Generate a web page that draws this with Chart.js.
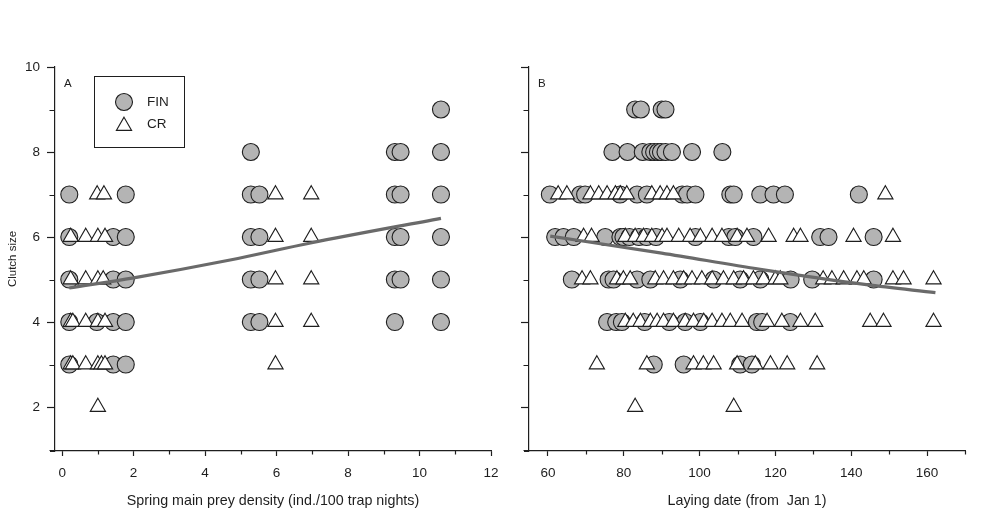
<!DOCTYPE html>
<html>
<head>
<meta charset="utf-8">
<script src="https://cdn.jsdelivr.net/npm/chart.js@4.4.1/dist/chart.umd.min.js"></script>
<style>
  html, body { margin: 0; padding: 0; background: #fff; }
  #wrap { position: relative; width: 1000px; height: 513px; overflow: hidden; }
  .panel { position: absolute; top: 0; height: 513px; }
</style>
</head>
<body>
<div id="wrap">
  <div class="panel" style="left:0;width:512px"><canvas id="chartA"></canvas></div>
  <div class="panel" style="left:500px;width:500px"><canvas id="chartB"></canvas></div>
</div>
<script>
// clutch size rows, top to bottom; each data list below has one entry per row
const clutchSizes = [9, 8, 7, 6, 5, 4, 3, 2];

// panel A: spring main prey density
const finA = [
  [10.6],
  [5.28, 9.31, 9.47, 10.6],
  [0.2, 1.78, 5.28, 5.52, 9.31, 9.47, 10.6],
  [0.2, 1.43, 1.78, 5.28, 5.52, 9.31, 9.47, 10.6],
  [0.2, 1.43, 1.78, 5.28, 5.52, 9.31, 9.47, 10.6],
  [0.2, 0.97, 1.43, 1.78, 5.28, 5.52, 9.31, 10.6],
  [0.2, 1.43, 1.78],
  []
];
const crA = [
  [],
  [],
  [0.98, 1.17, 5.97, 6.97],
  [0.24, 0.66, 1.0, 1.2, 5.97, 6.97],
  [0.24, 0.66, 1.0, 1.15, 5.97, 6.97],
  [0.24, 0.3, 0.66, 1.0, 1.2, 5.97, 6.97],
  [0.24, 0.3, 0.66, 1.0, 1.1, 1.2, 5.97],
  [1.0]
];
const fitA_x = [0.2, 2, 4.7, 6.95, 10.6];
const fitA_y = [4.8, 5.04, 5.46, 5.86, 6.44];

// panel B: laying date
const finB = [
  [83, 84.5, 90, 91],
  [77, 81, 85, 87, 88, 89, 89.8, 91, 92.7, 98, 106],
  [60.5, 68.5, 69.8, 79, 83.5, 86.1, 95.4, 96.7, 98.9, 108.1, 109, 116, 119.5, 122.5, 142],
  [61.9, 64.1, 66.8, 75.1, 79.1, 79.9, 81.5, 84, 86, 88.5, 98.9, 107.7, 109.4, 114.2, 131.8, 134, 145.9],
  [66.3, 76, 77.3, 83.5, 87, 94.9, 103.7, 110.7, 116, 124, 129.7, 145.9],
  [75.6, 78, 79.5, 85.5, 92, 96.2, 100.2, 115.1, 116.5, 123.9],
  [87.9, 95.8, 110.7, 113.8],
  []
];
const crB = [
  [],
  [],
  [62.7, 65, 71.2, 73.4, 75.6, 77.8, 79.1, 80.8, 87.4, 89.6, 91.4, 93.1, 149],
  [69.4, 71.5, 80.4, 83, 85.2, 87.4, 90.1, 91.4, 94.5, 97.5, 100.2, 103.3, 105.9, 109.9, 112.5, 118.2, 124.8, 126.6, 140.6, 151],
  [69, 71.2, 78.2, 79.9, 81.7, 88.3, 90.5, 93.1, 95.8, 98, 100.6, 103.3, 106.3, 109, 111.6, 114.2, 116.9, 120, 121.3, 132.6, 134.9, 138, 141.5, 143.3, 151, 153.8, 161.7],
  [80.4, 82.5, 84.4, 87, 88.8, 90.5, 93.1, 96.2, 98.4, 101.1, 103.3, 105.9, 108.1, 111.2, 117.8, 121.7, 126.6, 130.5, 145, 148.5, 161.7],
  [72.9, 86.1, 98.4, 101, 103.7, 109.9, 114.7, 118.7, 123.1, 131],
  [83, 109]
];
const fitB_x = [60.6, 90, 116, 144, 162.2];
const fitB_y = [6.02, 5.62, 5.24, 4.88, 4.69];

// axis ticks (labelled values get the long tick, the rest a short one)
const yTicks = [1, 2, 3, 4, 5, 6, 7, 8, 9, 10];
const yLabels = [2, 4, 6, 8, 10];
const xTicksA = [0, 1, 2, 3, 4, 5, 6, 7, 8, 9, 10, 11, 12];
const xLabelsA = [0, 2, 4, 6, 8, 10, 12];
const xTicksB = [60, 70, 80, 90, 100, 110, 120, 130, 140, 150, 160, 170];
const xLabelsB = [60, 80, 100, 120, 140, 160];

const INK = '#1e1e1e';
const FILL = '#b4b4b4';
const FONT = '"Liberation Sans", Arial, sans-serif';

Chart.defaults.font.family = FONT;
Chart.defaults.color = INK;

function rowsToPoints(rows) {
  let pts = [];
  rows.forEach((xs, i) => xs.forEach(x => pts.push({x: x, y: clutchSizes[i]})));
  return pts;
}
function zipPoints(xs, ys) {
  return xs.map((x, i) => ({x: x, y: ys[i]}));
}

function triPath(ctx, cx, cy, r) {
  // same geometry as Chart.js 'triangle' point style
  ctx.beginPath();
  ctx.moveTo(cx, cy - r);
  ctx.lineTo(cx + r * Math.sin(Math.PI / 3), cy + r / 2);
  ctx.lineTo(cx - r * Math.sin(Math.PI / 3), cy + r / 2);
  ctx.closePath();
}

const panelExtras = {
  id: 'panelExtras',
  afterDraw(chart, args, opts) {
    const ctx = chart.ctx, a = chart.chartArea;
    const xs = chart.scales.x, ys = chart.scales.y;
    ctx.save();
    ctx.strokeStyle = INK;
    ctx.lineWidth = 1.2;
    ctx.beginPath();
    // x axis line runs a little past the y axis, as in the original
    ctx.moveTo(a.left - 5, a.bottom + 0.5);
    ctx.lineTo(a.left, a.bottom + 0.5);
    // short minor ticks
    opts.xTicks.filter(v => !opts.xLabels.includes(v)).forEach(v => {
      const px = Math.round(xs.getPixelForValue(v)) + 0.5;
      ctx.moveTo(px, a.bottom);
      ctx.lineTo(px, a.bottom + 3.5);
    });
    yTicks.filter(v => !yLabels.includes(v)).forEach(v => {
      const py = Math.round(ys.getPixelForValue(v)) + 0.5;
      ctx.moveTo(a.left, py);
      ctx.lineTo(a.left - 5.5, py);
    });
    ctx.stroke();

    ctx.fillStyle = INK;
    ctx.font = '11.5px ' + FONT;
    ctx.textBaseline = 'middle';
    ctx.textAlign = 'left';
    ctx.fillText(opts.tag, a.left + 9, a.top + 17);
    if (opts.legend) {
      ctx.lineWidth = 1;
      ctx.strokeRect(94.5, 76.5, 90, 71);
      ctx.lineWidth = 1.1;
      ctx.beginPath();
      ctx.arc(124, 102, 8.5, 0, Math.PI * 2);
      ctx.fillStyle = FILL;
      ctx.fill();
      ctx.stroke();
      triPath(ctx, 124, 126, 8.8);
      ctx.fillStyle = '#fff';
      ctx.fill();
      ctx.stroke();
      ctx.fillStyle = INK;
      ctx.font = '13.5px ' + FONT;
      ctx.fillText('FIN', 147, 102);
      ctx.fillText('CR', 147, 124);
    }
    ctx.restore();
  }
};

function makeChart(id, cfg) {
  const scatterSets = [
    {label: 'fit', data: zipPoints(cfg.fitX, cfg.fitY), showLine: true, pointRadius: 0,
     borderColor: '#6a6a6a', borderWidth: 3.2, cubicInterpolationMode: 'monotone', order: 0, clip: false},
    {label: 'CR', data: rowsToPoints(cfg.cr), pointStyle: 'triangle', pointRadius: 8.8,
     backgroundColor: '#fff', borderColor: INK, borderWidth: 1.1, order: 1, clip: false},
    {label: 'FIN', data: rowsToPoints(cfg.fin), pointStyle: 'circle', pointRadius: 8.5,
     backgroundColor: FILL, borderColor: INK, borderWidth: 1.1, order: 2, clip: false}
  ];
  return new Chart(document.getElementById(id), {
    type: 'scatter',
    data: { datasets: scatterSets },
    options: {
      responsive: true,
      maintainAspectRatio: false,
      animation: false,
      events: [],
      layout: { padding: {left: 0, right: cfg.padRight, top: 67, bottom: 0} },
      plugins: {
        legend: {display: false},
        tooltip: {enabled: false},
        panelExtras: {tag: cfg.tag, legend: cfg.legend, xTicks: cfg.xTicks, xLabels: cfg.xLabels}
      },
      scales: {
        x: {
          type: 'linear', min: cfg.xMin, max: cfg.xMax,
          afterBuildTicks: s => { s.ticks = cfg.xTicks.map(v => ({value: v})); },
          afterFit: s => { s.height = 62; },
          border: {display: true, color: INK, width: 1.2},
          grid: {
            drawOnChartArea: false, drawTicks: true, tickLength: 5, tickWidth: 1.2,
            tickColor: c => (c.tick && cfg.xLabels.includes(c.tick.value)) ? INK : 'rgba(0,0,0,0)'
          },
          ticks: {
            autoSkip: false, maxRotation: 0, padding: 9, color: INK,
            font: {size: 13.5},
            callback: v => cfg.xLabels.includes(v) ? String(v) : ''
          },
          title: {display: true, text: cfg.xTitle, font: {size: 14.3}, color: INK, padding: {top: 4, bottom: 3.5}}
        },
        y: {
          type: 'linear', min: 0.965, max: 10,
          afterBuildTicks: s => { s.ticks = yTicks.map(v => ({value: v})); },
          afterFit: s => { s.width = cfg.yWidth; },
          border: {display: true, color: INK, width: 1.2},
          grid: {
            drawOnChartArea: false, drawTicks: true, tickLength: 8, tickWidth: 1.2,
            tickColor: c => (c.tick && yLabels.includes(c.tick.value)) ? INK : 'rgba(0,0,0,0)'
          },
          ticks: {
            autoSkip: false, padding: 7, color: INK,
            font: {size: 13.5},
            callback: v => (cfg.yLabelsOn && yLabels.includes(v)) ? String(v) : ''
          },
          title: {display: cfg.yLabelsOn, text: 'Clutch size', font: {size: 11.5}, color: INK, padding: {top: 6, bottom: 0}}
        }
      }
    },
    plugins: [panelExtras]
  });
}

makeChart('chartA', {
  fin: finA, cr: crA, fitX: fitA_x, fitY: fitA_y,
  xMin: -0.2, xMax: 12, xTicks: xTicksA, xLabels: xLabelsA,
  xTitle: 'Spring main prey density (ind./100 trap nights)',
  yWidth: 55, yLabelsOn: true, padRight: 21, tag: 'A', legend: true
});
makeChart('chartB', {
  fin: finB, cr: crB, fitX: fitB_x, fitY: fitB_y,
  xMin: 55, xMax: 170, xTicks: xTicksB, xLabels: xLabelsB,
  xTitle: 'Laying date (from  Jan 1)',
  yWidth: 29, yLabelsOn: false, padRight: 35, tag: 'B', legend: false
});
</script>
</body>
</html>
